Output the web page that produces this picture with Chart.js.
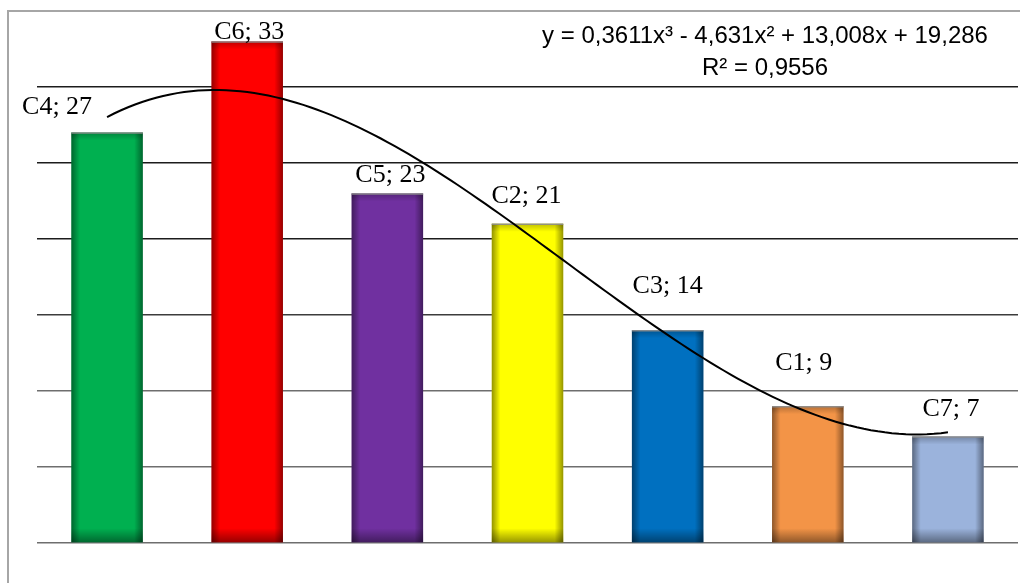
<!DOCTYPE html>
<html>
<head>
<meta charset="utf-8">
<script src="https://cdn.jsdelivr.net/npm/chart.js@4/dist/chart.umd.min.js"></script>
<style>
  html, body { margin: 0; padding: 0; background: #ffffff; }
  canvas { display: block; }
</style>
</head>
<body>
<canvas id="chart" width="1020" height="583"></canvas>
<script>
// Categories and their counts, in the order the bars are drawn
const categories = ['C4', 'C6', 'C5', 'C2', 'C3', 'C1', 'C7'];
const values = [27, 33, 23, 21, 14, 9, 7];
const barColors = ['#00B050', '#FF0000', '#7030A0', '#FFFF00', '#0070C0', '#F39447', '#9BB3DC'];

// Cubic trend: y = a x^3 + b x^2 + c x + d, with x = 1..7 for the categories
const trendCoefficients = [0.3611, -4.631, 13.008, 19.286];
const trendLabel = ['y = 0,3611x\u00B3 - 4,631x\u00B2 + 13,008x + 19,286', 'R\u00B2 = 0,9556'];

// Value axis
const yMin = 0;
const yMax = 35;
const yStep = 5;

// Label placement relative to each bar top: [dx, dy to text baseline]
const labelNudges = [[-50, -19], [2, -2], [3, -11], [-1, -21], [0, -37], [-4, -36], [3, -21]];

// Points along the fitted cubic between the first and last category
const trendPoints = [];
for (let i = 0; i <= 120; i++) {
  const x = 1 + i * (categories.length - 1) / 120;
  const [a, b, c, d] = trendCoefficients;
  trendPoints.push({ x: x, y: a * x * x * x + b * x * x + c * x + d });
}

const frame = {
  id: 'frame',
  beforeDraw(chart) {
    const ctx = chart.ctx;
    ctx.save();
    ctx.fillStyle = '#ffffff';
    ctx.fillRect(0, 0, chart.width, chart.height);
    ctx.strokeStyle = '#a6a6a6';
    ctx.lineWidth = 2;
    ctx.strokeRect(8, 11, 1200, 1200);
    ctx.restore();
  }
};

// Soft inner shading on the bar edges
const barShade = {
  id: 'barShade',
  afterDatasetDraw(chart, args) {
    if (args.index !== 0) return;
    const ctx = chart.ctx;
    ctx.save();
    args.meta.data.forEach((bar) => {
      const p = bar.getProps(['x', 'y', 'base', 'width'], true);
      const left = p.x - p.width / 2;
      const top = p.y;
      const h = p.base - p.y;
      const w = p.width;
      const gh = ctx.createLinearGradient(left, 0, left + w, 0);
      gh.addColorStop(0, 'rgba(0,0,0,0.42)');
      gh.addColorStop(0.12, 'rgba(0,0,0,0.0)');
      gh.addColorStop(0.88, 'rgba(0,0,0,0.0)');
      gh.addColorStop(1, 'rgba(0,0,0,0.42)');
      ctx.fillStyle = gh;
      ctx.fillRect(left, top, w, h);
      const gv = ctx.createLinearGradient(0, p.base - 14, 0, p.base);
      gv.addColorStop(0, 'rgba(0,0,0,0)');
      gv.addColorStop(1, 'rgba(0,0,0,0.4)');
      ctx.fillStyle = gv;
      ctx.fillRect(left, p.base - 14, w, 14);
      const gt = ctx.createLinearGradient(0, top, 0, top + 8);
      gt.addColorStop(0, 'rgba(0,0,0,0.25)');
      gt.addColorStop(1, 'rgba(0,0,0,0)');
      ctx.fillStyle = gt;
      ctx.fillRect(left, top, w, 8);
      ctx.strokeStyle = 'rgba(140,140,140,0.9)';
      ctx.lineWidth = 1.5;
      ctx.beginPath();
      ctx.moveTo(left, top + 0.5);
      ctx.lineTo(left + w, top + 0.5);
      ctx.stroke();
    });
    ctx.restore();
  }
};

const valueLabels = {
  id: 'valueLabels',
  afterDatasetsDraw(chart) {
    const ctx = chart.ctx;
    const meta = chart.getDatasetMeta(0);
    ctx.save();
    ctx.font = '26px "Liberation Serif", "Times New Roman", serif';
    ctx.fillStyle = '#000000';
    ctx.textAlign = 'center';
    ctx.textBaseline = 'alphabetic';
    meta.data.forEach((bar, i) => {
      const n = labelNudges[i];
      ctx.fillText(categories[i] + '; ' + values[i], bar.x + n[0], bar.y + n[1]);
    });
    ctx.restore();
  }
};

const trendText = {
  id: 'trendText',
  afterDraw(chart) {
    const ctx = chart.ctx;
    ctx.save();
    ctx.font = '24px "Liberation Sans", Arial, sans-serif';
    ctx.fillStyle = '#000000';
    ctx.textAlign = 'center';
    ctx.textBaseline = 'alphabetic';
    ctx.fillText(trendLabel[0], 765, 43);
    ctx.fillText(trendLabel[1], 765, 75);
    ctx.restore();
  }
};

function gridColor(ctx) {
  const v = ctx.tick ? ctx.tick.value : 0;
  if (v >= yMax) return 'rgba(0,0,0,0)';
  if (v >= 20) return '#1c1c1c';
  if (v >= 15) return '#3c3c3c';
  return '#6e6e6e';
}

new Chart(document.getElementById('chart'), {
  data: {
    labels: categories,
    datasets: [
      {
        type: 'bar',
        data: values,
        backgroundColor: barColors,
        borderWidth: 0,
        grouped: false,
        categoryPercentage: 1,
        barPercentage: 0.51,
        xAxisID: 'x',
        yAxisID: 'y',
        order: 2
      },
      {
        type: 'line',
        data: trendPoints,
        borderColor: '#000000',
        borderWidth: 2,
        pointRadius: 0,
        fill: false,
        tension: 0,
        xAxisID: 'xTrend',
        yAxisID: 'y',
        order: 1
      }
    ]
  },
  options: {
    responsive: false,
    devicePixelRatio: 1,
    animation: false,
    layout: { padding: { left: 37, right: 2, top: 11, bottom: 40 } },
    plugins: {
      legend: { display: false },
      tooltip: { enabled: false }
    },
    scales: {
      x: {
        type: 'category',
        display: false,
        offset: true
      },
      xTrend: {
        type: 'linear',
        display: false,
        min: 0.5,
        max: categories.length + 0.5
      },
      y: {
        type: 'linear',
        min: yMin,
        max: yMax,
        ticks: { display: false, stepSize: yStep },
        border: { display: false },
        grid: {
          color: gridColor,
          lineWidth: 1.5,
          drawTicks: false,
          tickLength: 0
        }
      }
    }
  },
  plugins: [frame, barShade, valueLabels, trendText]
});
</script>
</body>
</html>
